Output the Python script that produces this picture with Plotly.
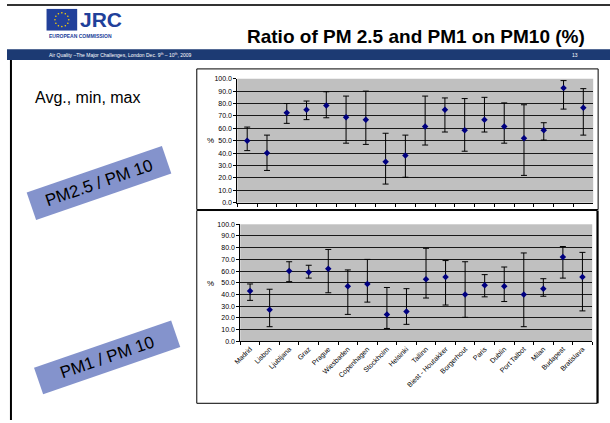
import math
import plotly.graph_objects as go

W, H = 610, 423

cities = ["Madrid", "Lisbon", "Ljubljana", "Graz", "Prague", "Wiesbaden", "Copenhagen",
          "Stockholm", "Helsinki", "Tallinn", "Biest - Houtakker", "Borgerhout", "Paris",
          "Dublin", "Port Talbot", "Milan", "Budapest", "Bratislava"]

pm25_avg = [50, 40, 72.5, 75, 78.5, 69, 67, 33, 38, 61.5, 75, 58.5, 67, 61.5, 52, 58.5, 92.5, 76.5]
pm25_min = [42, 26, 64, 67, 68.5, 48, 47, 15, 20.5, 46.5, 57, 41.5, 57, 48, 22, 50.5, 75.5, 54.5]
pm25_max = [61, 54.5, 80, 82, 89.5, 86, 90, 56, 54.5, 86, 84.5, 84, 85, 80.5, 79, 64.5, 98.5, 92]

pm1_avg = [43, 27, 60, 59, 62, 47, 49, 23, 25.5, 53, 55, 40, 48, 47, 40, 45, 72, 55]
pm1_min = [35, 12.5, 51, 54, 41.5, 23, 33.5, 11, 14.5, 37, 31, 20.5, 38, 34, 12.5, 38.5, 54, 26]
pm1_max = [49, 44.5, 68, 65, 78.5, 61, 70, 46, 45, 79.5, 69, 68, 57, 63.5, 75.5, 53.5, 81, 76]

y_ticks = list(range(0, 101, 10))
y_labels = [f"{v:.1f}" for v in y_ticks]

FONT = "Arial, Liberation Sans, sans-serif"


def px(x):
    return x / W


def py(y):
    return 1 - y / H


fig = go.Figure()


def add_series(avg, lo, hi, xa, ya):
    fig.add_trace(go.Scatter(
        x=cities, y=avg, mode="markers", xaxis=xa, yaxis=ya,
        marker=dict(symbol="diamond", size=5, color="#000080"),
        error_y=dict(type="data", symmetric=False,
                     array=[h - a for h, a in zip(hi, avg)],
                     arrayminus=[a - l for a, l in zip(avg, lo)],
                     color="#000000", thickness=1, width=3),
        showlegend=False, hoverinfo="skip"))


add_series(pm25_avg, pm25_min, pm25_max, "x", "y")
add_series(pm1_avg, pm1_min, pm1_max, "x2", "y2")

yax = dict(range=[0, 100], tickvals=y_ticks, ticktext=y_labels, showgrid=True,
           gridcolor="#1a1a1a", gridwidth=1, zeroline=False, showline=True,
           linecolor="#000000", linewidth=1, ticks="outside", ticklen=3,
           tickcolor="#000000", tickfont=dict(family=FONT, size=7, color="#000"),
           fixedrange=True)
xax = dict(type="category", showgrid=False, zeroline=False, showline=True,
           linecolor="#000000", linewidth=1, ticks="outside", ticklen=3,
           tickson="boundaries", tickcolor="#000000",
           tickfont=dict(family=FONT, size=7, color="#000"), tickangle=-45,
           range=[-0.5, len(cities) - 0.5])

fig.update_layout(
    width=W, height=H, margin=dict(l=0, r=0, t=0, b=0),
    paper_bgcolor="white", plot_bgcolor="#C0C0C0",
    font=dict(family=FONT),
    xaxis=dict(xax, domain=[px(233), px(593)], anchor="y", showticklabels=False),
    yaxis=dict(yax, domain=[py(202), py(76)], anchor="x"),
    xaxis2=dict(xax, domain=[px(236), px(592)], anchor="y2"),
    yaxis2=dict(yax, domain=[py(343), py(224)], anchor="x2"),
)

shapes = []
# header top line
shapes.append(dict(type="rect", xref="paper", yref="paper", x0=0, x1=1, y0=py(2), y1=py(0),
                   fillcolor="#333333", line=dict(width=0)))
# blue band
shapes.append(dict(type="rect", xref="paper", yref="paper", x0=0, x1=1, y0=py(57), y1=py(46),
                   fillcolor="#1C3A73", line=dict(width=0)))
# left slide border
shapes.append(dict(type="line", xref="paper", yref="paper", x0=px(4), x1=px(4), y0=py(423), y1=py(57),
                   line=dict(color="#000000", width=2)))
# chart frames
shapes.append(dict(type="rect", xref="paper", yref="paper", x0=px(192), x1=px(598), y0=py(209), y1=py(66),
                   line=dict(color="#000000", width=1)))
shapes.append(dict(type="rect", xref="paper", yref="paper", x0=px(192), x1=px(597), y0=py(406), y1=py(210),
                   line=dict(color="#000000", width=1)))
shapes.append(dict(type="line", xref="paper", yref="paper", x0=px(597.5), x1=px(597.5), y0=py(406), y1=py(210),
                   line=dict(color="#000000", width=2)))
# logo flag
shapes.append(dict(type="rect", xref="paper", yref="paper", x0=px(40), x1=px(71), y0=py(27), y1=py(5),
                   fillcolor="#21409A", line=dict(width=0)))
for k in range(12):
    a = 2 * math.pi * k / 12
    cx, cy = 55.5 + 7 * math.cos(a), 16 + 7 * math.sin(a)
    shapes.append(dict(type="circle", xref="paper", yref="paper",
                       x0=px(cx - 0.8), x1=px(cx + 0.8), y0=py(cy + 0.8), y1=py(cy - 0.8),
                       fillcolor="#FFD200", line=dict(width=0)))
fig.update_layout(shapes=shapes)

ann = []
ann.append(dict(text="<b>JRC</b>", x=px(72), y=py(16), xanchor="left", yanchor="middle",
                font=dict(family=FONT, size=21, color="#21409A")))
ann.append(dict(text="<b>EUROPEAN COMMISSION</b>", x=px(40), y=py(33), xanchor="left", yanchor="middle",
                font=dict(family=FONT, size=5, color="#21409A")))
ann.append(dict(text="<b>Ratio of PM 2.5 and PM1 on PM10 (%)</b>", x=px(414), y=py(33),
                xanchor="center", yanchor="middle", font=dict(family=FONT, size=19, color="#000")))
ann.append(dict(text="Air Quality \u2013The Major Challenges, London Dec. 9<sup>th</sup> \u2013 10<sup>th</sup>, 2009",
                x=px(40), y=py(51.5), xanchor="left", yanchor="middle",
                font=dict(family=FONT, size=5, color="#FFFFFF")))
ann.append(dict(text="13", x=px(575), y=py(51.5), xanchor="center", yanchor="middle",
                font=dict(family=FONT, size=5, color="#FFFFFF")))
ann.append(dict(text="Avg., min, max", x=px(26), y=py(95), xanchor="left", yanchor="middle",
                font=dict(family=FONT, size=16, color="#000")))
ann.append(dict(text="PM2.5 / PM 10", x=px(93), y=py(182), xanchor="center", yanchor="middle",
                textangle=-19, bgcolor="#8493CC", width=140, height=26,
                font=dict(family=FONT, size=17, color="#000")))
ann.append(dict(text="PM1 / PM 10", x=px(101), y=py(359), xanchor="center", yanchor="middle",
                textangle=-19, bgcolor="#8493CC", width=142, height=25,
                font=dict(family=FONT, size=17, color="#000")))
ann.append(dict(text="%", x=px(206), y=py(139), xanchor="center", yanchor="middle",
                font=dict(family=FONT, size=8, color="#000")))
ann.append(dict(text="%", x=px(206), y=py(284), xanchor="center", yanchor="middle",
                font=dict(family=FONT, size=8, color="#000")))
for a in ann:
    a.update(xref="paper", yref="paper", showarrow=False)
fig.update_layout(annotations=ann)

fig.write_html("out.html", config={"displayModeBar": False},
               post_script="document.body.style.margin='0px';document.body.style.overflow='hidden';")
